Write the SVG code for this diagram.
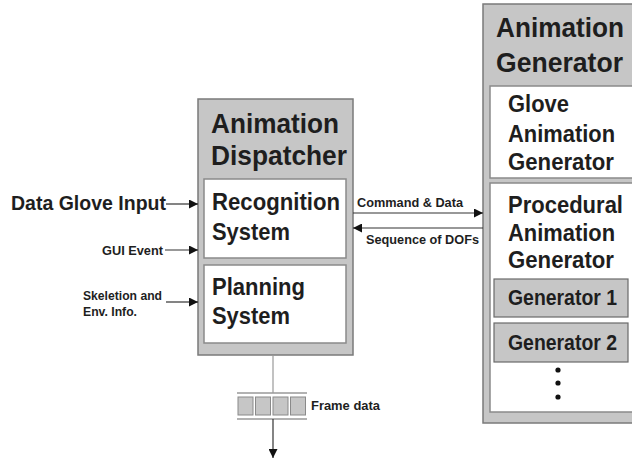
<svg xmlns="http://www.w3.org/2000/svg" width="632" height="462" viewBox="0 0 632 462">
<defs>
<style>
.outer{fill:#c6c6c6;stroke:#7a7a7a;stroke-width:1.5}
.inner{fill:#ffffff;stroke:#8a8a8a;stroke-width:1.5}
.gen{fill:#c6c6c6;stroke:#6a6a6a;stroke-width:1.2}
.cell{fill:#c6c6c6;stroke:#8a8a8a;stroke-width:1}
.t{font-family:"Liberation Sans",Arial,sans-serif;font-weight:bold;fill:#1e1e1e}
.big{font-size:27px}
.mid{font-size:24px}
.gn{font-size:22px}
.sm{font-size:13px}
.edge{stroke:#333;stroke-width:1.2;fill:none}
.thin{stroke:#999;stroke-width:1.2;fill:none}
</style>
<marker id="ah" viewBox="0 0 10 10" refX="10" refY="5" markerWidth="10" markerHeight="9" markerUnits="userSpaceOnUse" orient="auto">
<path d="M0,0 L10,5 L0,10 z" fill="#111"/>
</marker>
</defs>
<rect width="632" height="462" fill="#ffffff"/>

<g id="dispatcher">
<rect class="outer" x="198" y="99" width="155" height="256"/>
<text class="t big" x="211" y="133" textLength="128" lengthAdjust="spacingAndGlyphs">Animation</text>
<text class="t big" x="211" y="165" textLength="136" lengthAdjust="spacingAndGlyphs">Dispatcher</text>
</g>
<g id="recognition">
<rect class="inner" x="204" y="179" width="142" height="79"/>
<text class="t mid" x="212" y="210" textLength="128" lengthAdjust="spacingAndGlyphs">Recognition</text>
<text class="t mid" x="212" y="240" textLength="78" lengthAdjust="spacingAndGlyphs">System</text>
</g>
<g id="planning">
<rect class="inner" x="204" y="265" width="142" height="78"/>
<text class="t mid" x="212" y="295" textLength="93" lengthAdjust="spacingAndGlyphs">Planning</text>
<text class="t mid" x="212" y="324" textLength="78" lengthAdjust="spacingAndGlyphs">System</text>
</g>

<g id="generator">
<rect class="outer" x="483" y="4" width="152" height="419"/>
<text class="t big" x="496" y="37" textLength="128" lengthAdjust="spacingAndGlyphs">Animation</text>
<text class="t big" x="496" y="72" textLength="127" lengthAdjust="spacingAndGlyphs">Generator</text>
</g>
<g id="glove">
<rect class="inner" x="490" y="86" width="145" height="92"/>
<text class="t mid" x="508" y="112" textLength="61" lengthAdjust="spacingAndGlyphs">Glove</text>
<text class="t mid" x="508" y="142" textLength="107" lengthAdjust="spacingAndGlyphs">Animation</text>
<text class="t mid" x="508" y="170" textLength="106" lengthAdjust="spacingAndGlyphs">Generator</text>
</g>
<g id="procedural">
<rect class="inner" x="490" y="183" width="145" height="229"/>
<text class="t mid" x="508" y="213" textLength="115" lengthAdjust="spacingAndGlyphs">Procedural</text>
<text class="t mid" x="508" y="241" textLength="107" lengthAdjust="spacingAndGlyphs">Animation</text>
<text class="t mid" x="508" y="268" textLength="106" lengthAdjust="spacingAndGlyphs">Generator</text>
<circle cx="558" cy="370" r="2.6" fill="#111"/>
<circle cx="558" cy="383" r="2.6" fill="#111"/>
<circle cx="558" cy="397" r="2.6" fill="#111"/>
</g>
<g id="gen1">
<rect class="gen" x="494" y="279" width="134" height="38"/>
<text class="t gn" x="508" y="305" textLength="109" lengthAdjust="spacingAndGlyphs">Generator 1</text>
</g>
<g id="gen2">
<rect class="gen" x="494" y="323" width="134" height="39"/>
<text class="t gn" x="508" y="350" textLength="109" lengthAdjust="spacingAndGlyphs">Generator 2</text>
</g>

<g id="framebuffer">
<line x1="237" y1="393" x2="307" y2="393" stroke="#999" stroke-width="1.5"/>
<line x1="237" y1="419" x2="307" y2="419" stroke="#999" stroke-width="1.5"/>
<rect class="cell" x="238" y="397" width="15" height="18"/>
<rect class="cell" x="255.5" y="397" width="15" height="18"/>
<rect class="cell" x="273" y="397" width="15" height="18"/>
<rect class="cell" x="290.5" y="397" width="15" height="18"/>
<text class="t sm" x="311" y="410" textLength="69" lengthAdjust="spacingAndGlyphs">Frame data</text>
</g>

<g id="labels">
<text class="t" x="11" y="210" style="font-size:20.5px" textLength="155" lengthAdjust="spacingAndGlyphs">Data Glove Input</text>
<text class="t sm" x="102" y="255" textLength="61" lengthAdjust="spacingAndGlyphs">GUI Event</text>
<text class="t sm" x="83" y="300" textLength="79" lengthAdjust="spacingAndGlyphs">Skeletion and</text>
<text class="t sm" x="83" y="316" textLength="54" lengthAdjust="spacingAndGlyphs">Env. Info.</text>
<text class="t sm" x="357" y="207" textLength="106" lengthAdjust="spacingAndGlyphs">Command &amp; Data</text>
<text class="t sm" x="366" y="244" textLength="113" lengthAdjust="spacingAndGlyphs">Sequence of DOFs</text>
</g>

<g id="connectors">
<line class="edge" x1="166" y1="204" x2="198" y2="204" marker-end="url(#ah)"/>
<line class="edge" x1="165" y1="250" x2="198" y2="250" marker-end="url(#ah)"/>
<line class="edge" x1="166" y1="302" x2="198" y2="302" marker-end="url(#ah)"/>
<line class="edge" x1="353" y1="213" x2="483" y2="213" marker-end="url(#ah)"/>
<line class="edge" x1="483" y1="228" x2="353" y2="228" marker-end="url(#ah)"/>
<line class="thin" x1="273" y1="355" x2="273" y2="393"/>
<line class="edge" x1="273" y1="419" x2="273" y2="458" marker-end="url(#ah)"/>
</g>
</svg>
